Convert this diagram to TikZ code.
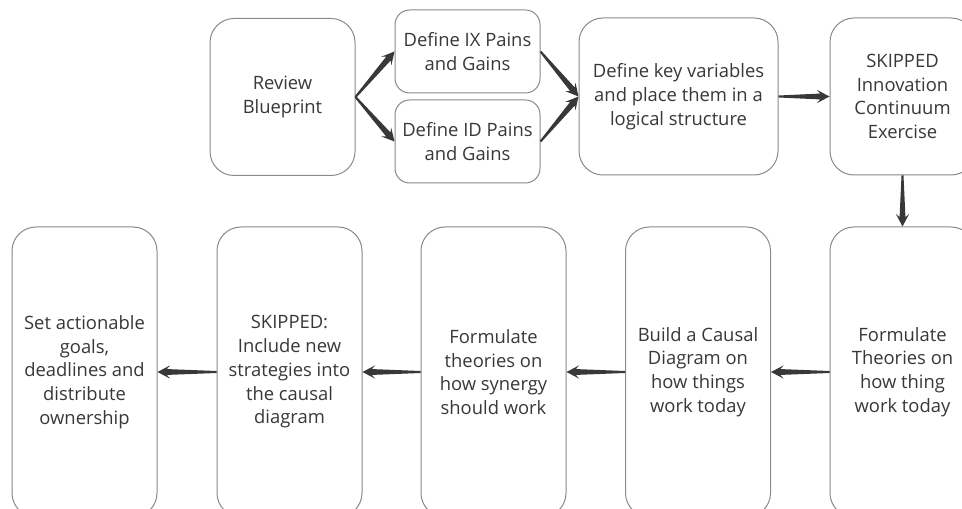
\documentclass[tikz,border=0pt]{standalone}
\usepackage{fontspec}
\setmainfont{Open Sans}
\usetikzlibrary{calc}
\definecolor{boxc}{HTML}{8A8A8A}
\definecolor{inkc}{HTML}{383838}
\begin{document}
\begin{tikzpicture}[x=0.75pt,y=-0.75pt,
  card/.style={draw=boxc, line width=0.75pt, rounded corners=18pt, align=center,
    text=inkc, font=\fontsize{13.8pt}{17.8pt}\selectfont, inner sep=0pt,
    minimum width=108.75pt, minimum height=117.75pt},
  small/.style={card, rounded corners=11pt, minimum height=62.25pt},
  tall/.style={card, minimum height=217.5pt},
  % tapered connector: thin tail widening into a swept-back head
  taper/.style={draw=none, fill=inkc, to path={
    ($(\tikztostart)!0.75pt!90:(\tikztotarget)$)
    -- ($(\tikztotarget)!7.34pt!-17.45:(\tikztostart)$)
    -- ($(\tikztotarget)!10.74pt!-27.76:(\tikztostart)$)
    -- (\tikztotarget)
    -- ($(\tikztotarget)!10.74pt!27.76:(\tikztostart)$)
    -- ($(\tikztotarget)!7.34pt!17.45:(\tikztostart)$)
    -- ($(\tikztostart)!0.75pt!-90:(\tikztotarget)$) -- cycle}}]
\clip (0,0) rectangle (962,509);
\fill[white] (0,0) rectangle (962,509);

% top row
\node[card] (rb) at (282.5,97) {Review\\Blueprint};
\node[small] (ix) at (467.5,51.5) {Define IX Pains\\and Gains};
\node[small] (id) at (467.5,141.5) {Define ID Pains\\and Gains};
\node[card, minimum width=149.25pt] (kv) at (678.5,96.5) {Define key variables\\and place them in a\\logical structure};
\node[card] (sk1) at (902.5,96.5) {SKIPPED\\Innovation\\Continuum\\Exercise};

% bottom row
\node[tall] (ft) at (902.5,372) {Formulate\\Theories on\\how thing\\work today};
\node[tall] (bc) at (698,372) {Build a Causal\\Diagram on\\how things\\work today};
\node[tall] (fs) at (493.5,372) {Formulate\\theories on\\how synergy\\should work};
\node[tall] (sk2) at (289.5,372) {SKIPPED:\\Include new\\strategies into\\the causal\\diagram};
\node[tall] (sa) at (84.5,372) {Set actionable\\goals,\\deadlines and\\distribute\\ownership};

% connectors
\path[taper] (rb.east) to (ix.west);
\path[taper] (rb.east) to (id.west);
\path[taper] (ix.east) to (kv.west);
\path[taper] (id.east) to (kv.west);
\path[taper] (kv.east) to (sk1.west);
\path[taper] (sk1.south) to (ft.north);
\path[taper] (ft.west) to (bc.east);
\path[taper] (bc.west) to (fs.east);
\path[taper] (fs.west) to (sk2.east);
\path[taper] (sk2.west) to (sa.east);
\end{tikzpicture}
\end{document}
